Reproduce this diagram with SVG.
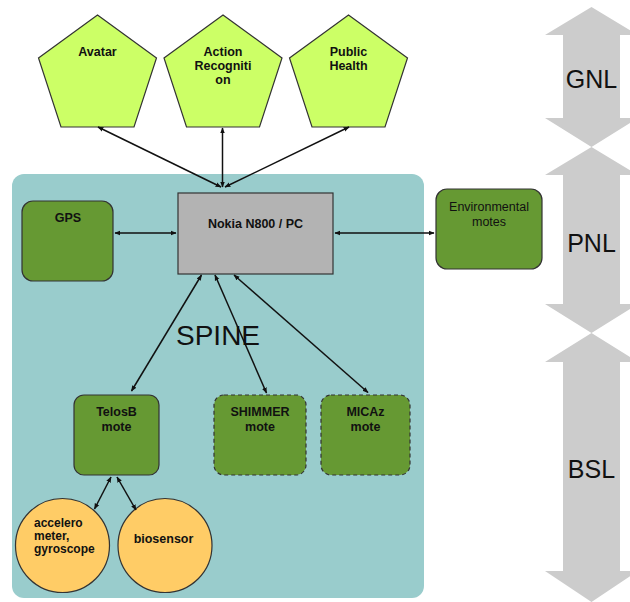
<svg xmlns="http://www.w3.org/2000/svg" width="630" height="602" viewBox="0 0 630 602">
<defs>
<marker id="ah" viewBox="0 0 10 10" refX="9" refY="5" markerWidth="6" markerHeight="6" markerUnits="userSpaceOnUse" orient="auto-start-reverse">
<path d="M0,1 L10,5 L0,9 Z" fill="#111"/>
</marker>
</defs>
<style>
text{font-family:"Liberation Sans",Arial,sans-serif;fill:#111}
.b{font-weight:bold;font-size:12.5px;text-anchor:middle}
.pent{fill:#ccff66;stroke:#333;stroke-width:1.2}
.mote{fill:#669933;stroke:#333;stroke-width:1.2}
.dash{stroke-dasharray:4 3}
.circ{fill:#ffcc66;stroke:#333;stroke-width:1.2}
.lay{fill:#cccccc}
.lt{font-size:25px;text-anchor:middle}
.c{fill:none;stroke:#111;stroke-width:1.5;marker-start:url(#ah);marker-end:url(#ah)}
</style>
<rect width="630" height="602" fill="#fff"/>
<g id="layers">
<path class="lay" d="M591.5,7 L638,35 L620,35 L620,118 L638,118 L591.5,147 L545,118 L563,118 L563,35 L545,35 Z"/>
<path class="lay" d="M591.5,147 L638,175 L620,175 L620,304 L638,304 L591.5,333 L545,304 L563,304 L563,175 L545,175 Z"/>
<path class="lay" d="M591.5,333 L638,362 L620,362 L620,571 L638,571 L591.5,602 L545,571 L563,571 L563,362 L545,362 Z"/>
<text class="lt" x="591.5" y="88">GNL</text>
<text class="lt" x="591.5" y="252">PNL</text>
<text class="lt" x="591.5" y="478">BSL</text>
</g>
<g id="spine">
<rect x="12" y="174" width="412" height="424" rx="12" fill="#99cccc"/>
<text x="176" y="345" font-size="28" font-family="Liberation Sans,Arial,sans-serif">SPINE</text>
</g>
<g id="avatar">
<polygon class="pent" points="97.5,15 156.5,58 134,127 61,127 38.5,58"/>
<text class="b" x="97.5" y="56">Avatar</text>
</g>
<g id="action">
<polygon class="pent" points="223,15 282,58 259.5,127 186.5,127 164,58"/>
<text class="b" x="223" y="56">Action</text>
<text class="b" x="223" y="70">Recogniti</text>
<text class="b" x="223" y="84">on</text>
</g>
<g id="public">
<polygon class="pent" points="348.5,15 407.5,58 385,127 312,127 289.5,58"/>
<text class="b" x="348.5" y="56">Public</text>
<text class="b" x="348.5" y="70">Health</text>
</g>
<g id="nokia">
<rect x="178" y="193" width="155" height="81" fill="#b3b3b3" stroke="#333" stroke-width="1.2"/>
<text class="b" x="255.5" y="228">Nokia N800 / PC</text>
</g>
<g id="gps">
<rect class="mote" x="22" y="201" width="91" height="80" rx="11"/>
<text class="b" x="68" y="222">GPS</text>
</g>
<g id="env">
<rect class="mote" x="436" y="189" width="106" height="80" rx="11"/>
<text x="489" y="211" font-size="12.5" text-anchor="middle">Environmental</text>
<text x="489" y="226" font-size="12.5" text-anchor="middle">motes</text>
</g>
<g id="telosb">
<rect class="mote" x="74" y="395" width="85" height="80" rx="10"/>
<text class="b" x="116.5" y="416">TelosB</text>
<text class="b" x="116.5" y="431">mote</text>
</g>
<g id="shimmer">
<rect class="mote dash" x="214" y="395" width="92" height="80" rx="10"/>
<text class="b" x="260" y="416">SHIMMER</text>
<text class="b" x="260" y="431">mote</text>
</g>
<g id="micaz">
<rect class="mote dash" x="321" y="395" width="89" height="80" rx="10"/>
<text class="b" x="365.5" y="416">MICAz</text>
<text class="b" x="365.5" y="431">mote</text>
</g>
<g id="accel">
<circle class="circ" cx="62.5" cy="545.5" r="47"/>
<text x="34" y="527" font-size="12" font-weight="bold">accelero</text>
<text x="34" y="540" font-size="12" font-weight="bold">meter,</text>
<text x="34" y="553" font-size="12" font-weight="bold">gyroscope</text>
</g>
<g id="bio">
<circle class="circ" cx="165" cy="545.5" r="47"/>
<text class="b" x="163.5" y="543">biosensor</text>
</g>
<g id="connectors">
<line class="c" x1="98" y1="127" x2="221" y2="187"/>
<line class="c" x1="222.5" y1="128" x2="222.5" y2="187"/>
<line class="c" x1="349" y1="127" x2="225" y2="187"/>
<line class="c" x1="115" y1="233" x2="176" y2="233"/>
<line class="c" x1="335" y1="233" x2="434" y2="233"/>
<line class="c" x1="201.5" y1="275" x2="131.5" y2="391"/>
<line class="c" x1="215" y1="275" x2="266.5" y2="393"/>
<line class="c" x1="234" y1="275" x2="368" y2="392.5"/>
<line class="c" x1="111" y1="477" x2="94.5" y2="509"/>
<line class="c" x1="117" y1="477" x2="136" y2="510"/>
</g>
</svg>
